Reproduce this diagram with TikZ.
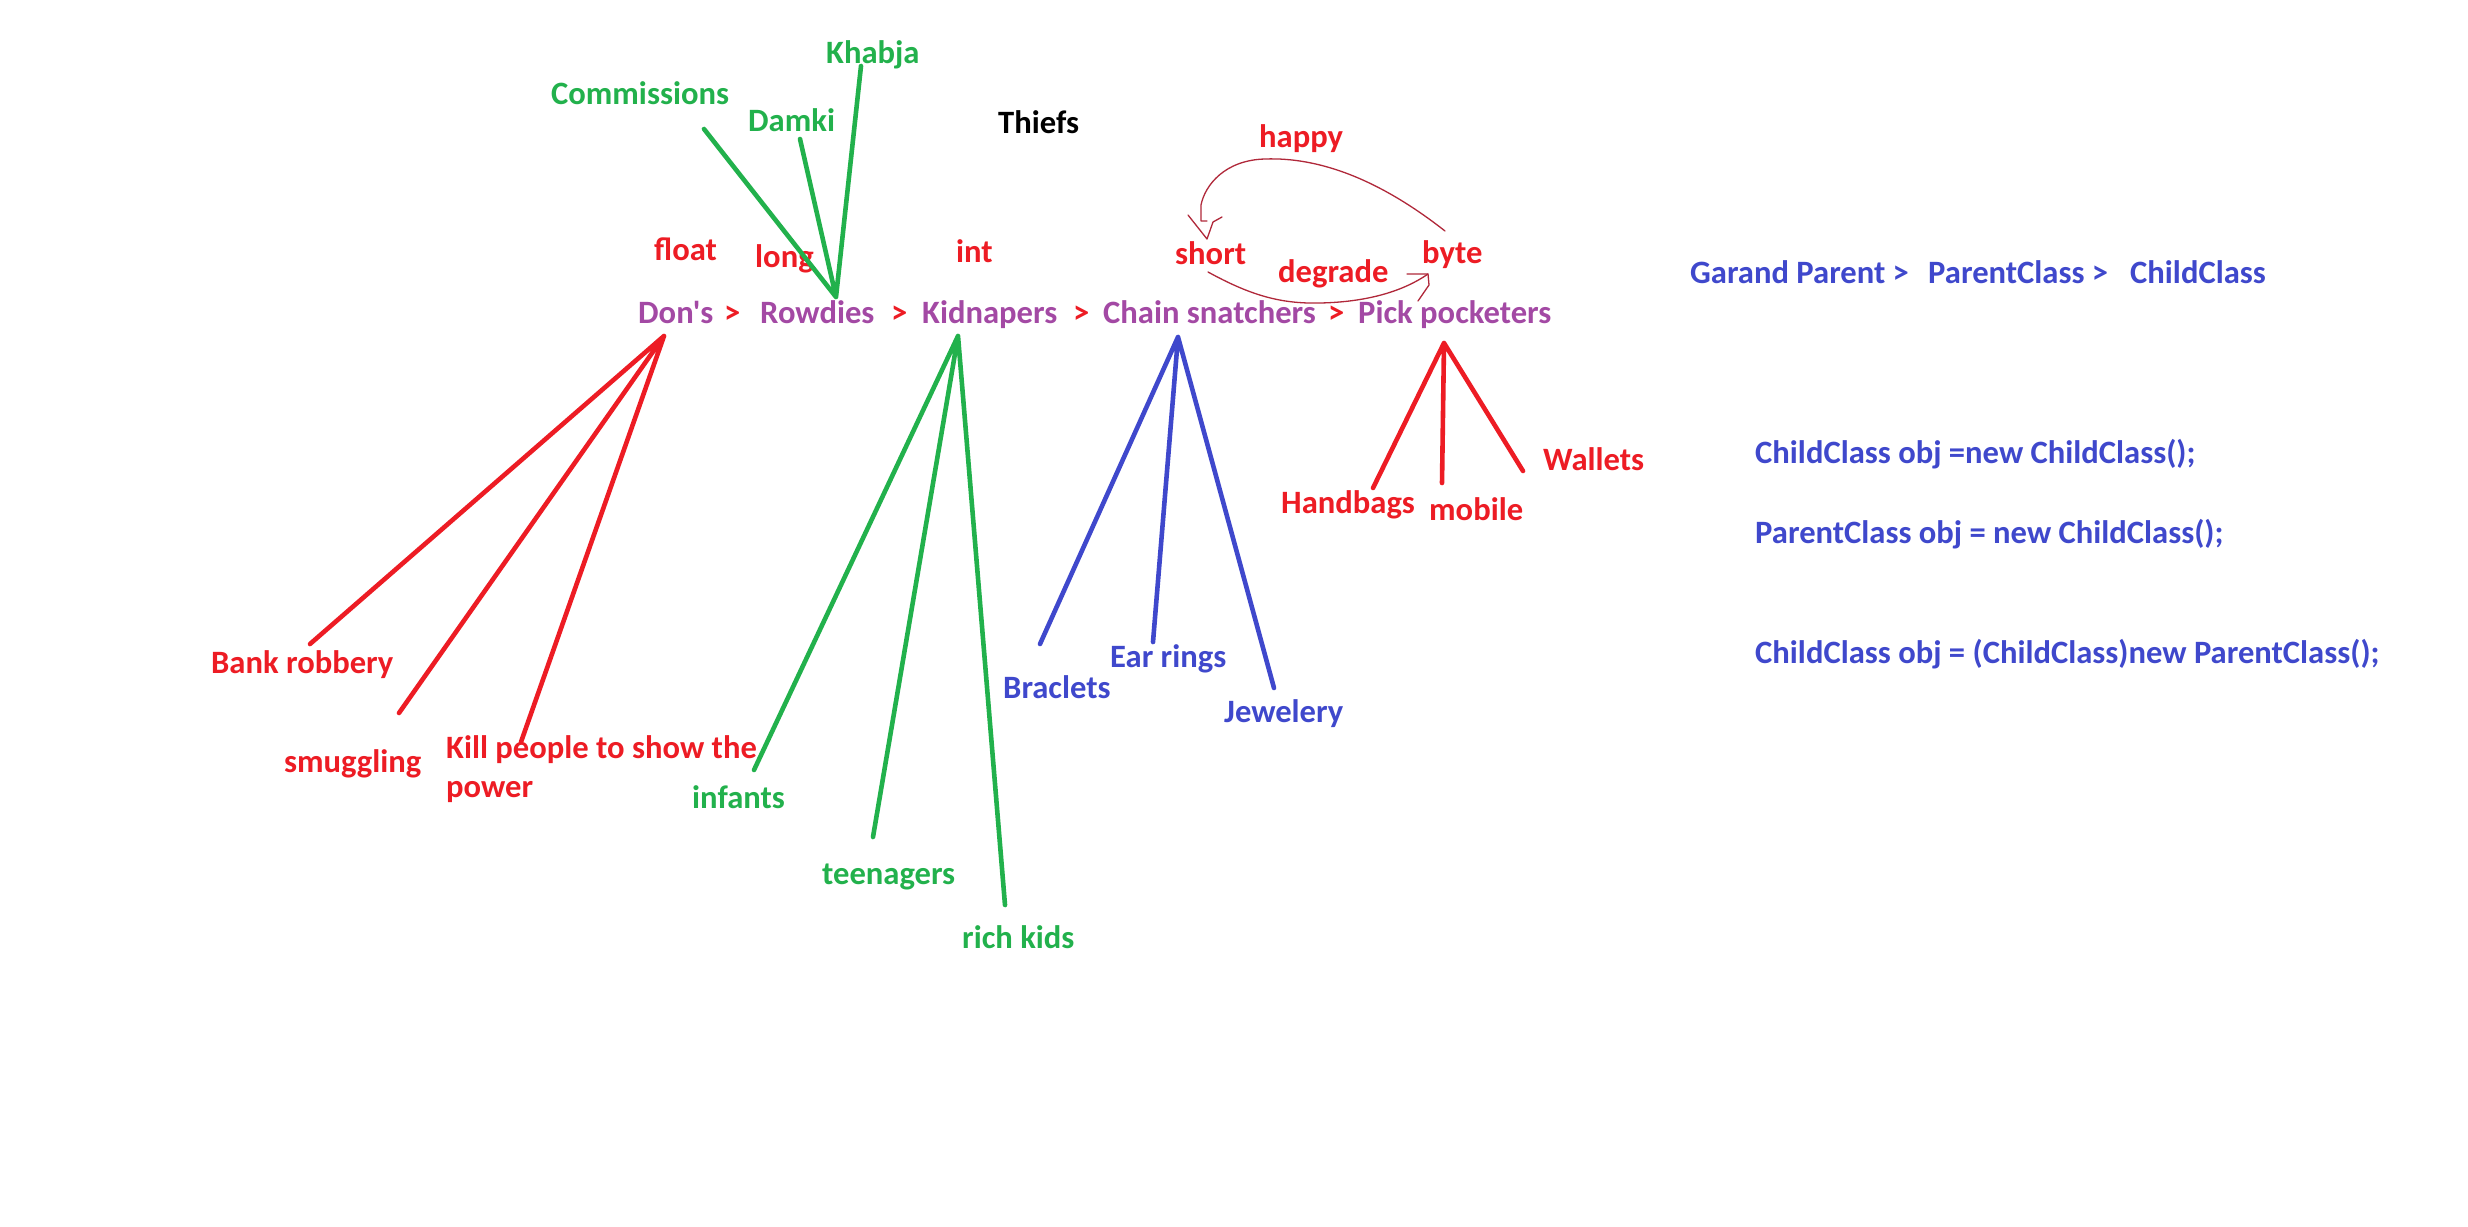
\documentclass[tikz,border=0pt]{standalone}
\usepackage{fontspec}
\setmainfont{Carlito}[BoldFont=Carlito Bold, Ligatures=TeXOff]
\definecolor{cpurple}{HTML}{A349A4}
\definecolor{cred}{HTML}{ED1C24}
\definecolor{cgreen}{HTML}{22B14C}
\definecolor{cblue}{HTML}{3F48CC}
\definecolor{ccurve}{HTML}{B0283A}
\tikzset{
  lbl/.style={anchor=base west, inner sep=0pt, font=\bfseries\fontsize{32.6}{39}\selectfont},
  purp/.style={lbl, text=cpurple},
  redt/.style={lbl, text=cred},
  grnt/.style={lbl, text=cgreen},
  blut/.style={lbl, text=cblue},
  blkt/.style={lbl, text=black},
  branch/.style={line width=4.6pt, line cap=round},
  thin/.style={draw=ccurve, line width=1.3pt, line cap=round, line join=round},
}
\begin{document}
\begin{tikzpicture}[x=1pt,y=-1pt]
\fill[white] (0,0) rectangle (2468,1226);
\useasboundingbox (0,0) rectangle (2468,1226);

% top labels
\node[grnt] (khabja) at (826,63) {Khabja};
\node[grnt] (comm) at (551,104) {Commissions};
\node[grnt] (damki) at (748,131) {Damki};
\node[blkt] (thiefs) at (998,133) {Thiefs};
\node[redt] (float) at (654,260) {float};
\node[redt] (long) at (755,267) {long};
\node[redt] (int) at (956,262) {int};
\node[redt] (happy) at (1259,147) {happy};
\node[redt] (short) at (1175,264) {short};
\node[redt] (byte) at (1422,263) {byte};
\node[redt] (degrade) at (1278,282) {degrade};

% main row
\node[purp] (dons) at (638,323) {Don's};
\node[redt] (gt1) at (724,323) {>};
\node[purp] (rowdies) at (760,323) {Rowdies};
\node[redt] (gt2) at (891,323) {>};
\node[purp] (kidnap) at (922,323) {Kidnapers};
\node[redt] (gt3) at (1073,323) {>};
\node[purp] (chain) at (1103,323) {Chain snatchers};
\node[redt] (gt4) at (1328,323) {>};
\node[purp] (pick) at (1358,323) {Pick pocketers};

% lower labels
\node[redt] (bank) at (211,673) {Bank robbery};
\node[redt] (smug) at (284,772) {smuggling};
\node[redt] (kill) at (446,758) {Kill people to show the};
\node[redt] (killb) at (446,797) {power};
\node[grnt] (infants) at (692,808) {infants};
\node[grnt] (teen) at (822,884) {teenagers};
\node[grnt] (rich) at (962,948) {rich kids};
\node[blut] (brac) at (1003,698) {Braclets};
\node[blut] (ear) at (1110,667) {Ear rings};
\node[blut] (jew) at (1224,722) {Jewelery};
\node[redt] (hand) at (1281,513) {Handbags};
\node[redt] (mobile) at (1429,520) {mobile};
\node[redt] (wallets) at (1543,470) {Wallets};

% right side
\node[blut] (gp) at (1690,283) {Garand Parent >};
\node[blut] (pc) at (1928,283) {ParentClass >};
\node[blut] (cc) at (2130,283) {ChildClass};
\node[blut] (code1) at (1755,463) {ChildClass obj =new ChildClass();};
\node[blut] (code2) at (1755,543) {ParentClass obj = new ChildClass();};
\node[blut] (code3) at (1755,663) {ChildClass obj = (ChildClass)new ParentClass();};

% branch coordinates
\coordinate (rroot) at (836,297);
\coordinate (commE) at (704,129);
\coordinate (damkiE) at (800,139);
\coordinate (khabjaE) at (861,66);
\coordinate (droot) at (664,336);
\coordinate (bankE) at (310,644);
\coordinate (smugE) at (399,713);
\coordinate (killE) at (521,742);
\coordinate (kroot) at (958,336);
\coordinate (infE) at (754,770);
\coordinate (teenE) at (873,837);
\coordinate (richE) at (1005,905);
\coordinate (croot) at (1178,337);
\coordinate (bracE) at (1040,644);
\coordinate (earE) at (1153,642);
\coordinate (jewE) at (1274,688);
\coordinate (proot) at (1444,343);
\coordinate (handE) at (1373,488);
\coordinate (mobE) at (1442,483);
\coordinate (walE) at (1523,471);

\draw[branch, cgreen] (rroot) -- (commE) (rroot) -- (damkiE) (rroot) -- (khabjaE);
\draw[branch, cred] (droot) -- (bankE) (droot) -- (smugE) (droot) -- (killE);
\draw[branch, cgreen] (kroot) -- (infE) (kroot) -- (teenE) (kroot) -- (richE);
\draw[branch, cblue] (croot) -- (bracE) (croot) -- (earE) (croot) -- (jewE);
\draw[branch, cred] (proot) -- (handE) (proot) -- (mobE) (proot) -- (walE);

% happy curve: byte -> short
\coordinate (hs) at (1445,231);
\coordinate (hm) at (1265,159);
\coordinate (hb) at (1201,205);
\coordinate (hc) at (1201,221);
\coordinate (hd) at (1207,221);
\coordinate (htip) at (1207,239);
\coordinate (hl) at (1188,215);
\coordinate (hr1) at (1213,222);
\coordinate (hr2) at (1222,217);
\draw[thin] (hs) .. controls (1380,180) and (1320,157) .. (hm)
  .. controls (1225,160) and (1205,185) .. (hb) -- (hc) -- (hd);
\draw[thin] (hl) -- (htip) -- (hr1) -- (hr2);

% degrade curve: short -> byte
\coordinate (ds) at (1208,272);
\coordinate (dm) at (1320,303);
\coordinate (de) at (1428,274);
\coordinate (dl) at (1407,274);
\coordinate (dc) at (1429,285);
\coordinate (dd) at (1418,301);
\draw[thin] (ds) .. controls (1250,295) and (1280,304) .. (dm)
  .. controls (1370,302) and (1405,290) .. (de);
\draw[thin] (dl) -- (de) -- (dc) -- (dd);
\end{tikzpicture}
\end{document}
